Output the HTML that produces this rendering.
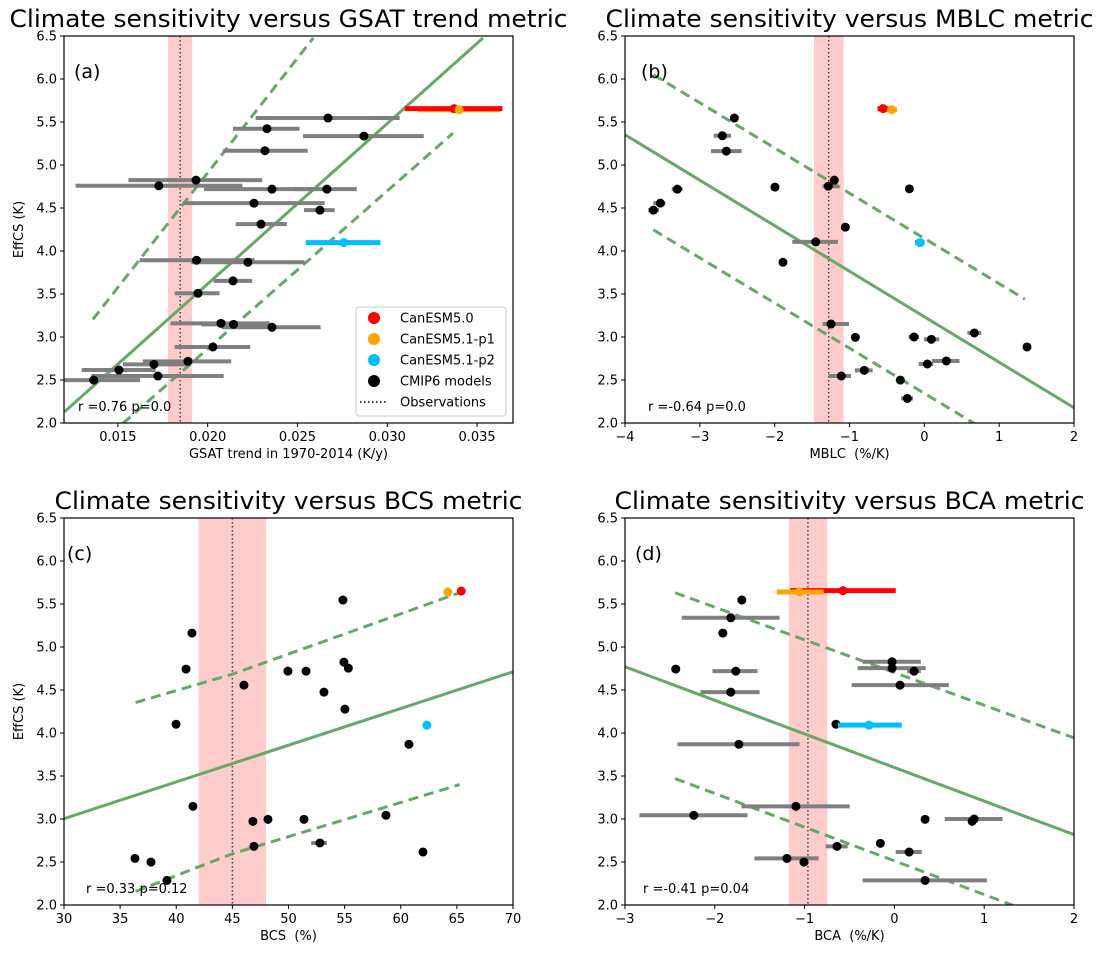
<!DOCTYPE html>
<html><head><meta charset="utf-8"><style>
body{margin:0;background:#fff;}
svg{display:block;font-family:"DejaVu Sans","Liberation Sans",sans-serif;}
</style></head><body>
<svg id="fig" width="1103" height="958" viewBox="0 0 1103 958" xmlns="http://www.w3.org/2000/svg"></svg>
<script>
// ---------- Panel (a) GSAT ----------
const aX=[0.02670,0.02330,0.02870,0.02319,0.01935,0.01728,0.02358,0.02664,0.02258,0.02625,0.02297,0.01938,0.02224,0.02141,0.01946,0.02074,0.02144,0.02358,0.02029,0.01890,0.01701,0.01506,0.01723,0.01366];
const aY=[5.546,5.422,5.336,5.166,4.824,4.758,4.719,4.719,4.556,4.475,4.312,3.893,3.869,3.652,3.508,3.159,3.147,3.113,2.884,2.717,2.682,2.616,2.546,2.499];
const aLo=[0.02267,0.02141,0.02531,0.02085,0.01559,0.01264,0.01980,0.02480,0.01862,0.02536,0.02156,0.01621,0.01909,0.02033,0.01816,0.01793,0.01964,0.02079,0.01816,0.01639,0.01528,0.01299,0.01351,0.01199];
const aHi=[0.03069,0.02512,0.03203,0.02557,0.02304,0.02193,0.02600,0.02830,0.02651,0.02707,0.02440,0.02261,0.02540,0.02248,0.02066,0.02345,0.02345,0.02629,0.02237,0.02131,0.01890,0.01710,0.02089,0.01624];
const aCan=[[0.03372,5.655,0.03097,0.03641],[0.03400,5.643,0.03171,0.03630],[0.02757,4.098,0.02546,0.02962]];
const aFit=[[0.01203,2.131],[0.03533,6.477]];
const aUp=[[0.01361,3.206],[0.02588,6.477]];
const aDn=[[0.01528,1.995],[0.03366,5.371]];
const aObs=[0.01847,0.01779,0.01914];
const aXTicks=[0.015,0.020,0.025,0.030,0.035];
const aXLabels=["0.015","0.020","0.025","0.030","0.035"];
// ---------- Panel (b) MBLC ----------
const bX=[-2.539,-2.699,-2.646,-1.996,-1.283,-1.203,-0.200,-3.301,-3.528,-3.621,-1.056,-1.452,-1.889,-1.247,-0.922,-0.138,0.094,0.668,1.372,0.040,0.294,-0.802,-1.109,-0.321,-0.227];
const bY=[5.546,5.340,5.162,4.743,4.754,4.824,4.723,4.719,4.556,4.475,4.277,4.106,3.869,3.151,2.996,3.000,2.973,3.047,2.884,2.686,2.721,2.612,2.546,2.499,2.286];
const bLo=[-2.539,-2.815,-2.851,-1.996,-1.360,-1.203,-0.200,-3.375,-3.620,-3.690,-1.056,-1.764,-1.889,-1.360,-0.922,-0.210,-0.005,0.575,1.372,-0.075,0.100,-0.930,-1.280,-0.321,-0.310];
const bHi=[-2.539,-2.583,-2.441,-1.996,-1.150,-1.203,-0.200,-3.229,-3.460,-3.545,-1.056,-1.154,-1.889,-1.007,-0.922,-0.070,0.200,0.760,1.372,0.120,0.470,-0.690,-0.980,-0.321,-0.150];
const bCan=[[-0.552,5.655,-0.625,-0.480],[-0.437,5.643,-0.510,-0.365],[-0.058,4.098,-0.125,0.005]];
const bFit=[[-4,5.352],[2,2.177]];
const bUp=[[-3.621,6.050],[1.345,3.439]];
const bDn=[[-3.621,4.246],[0.677,1.990]];
const bObs=[-1.278,-1.474,-1.078];
const bXTicks=[-4,-3,-2,-1,0,1,2];
const bXLabels=["\u22124","\u22123","\u22122","\u22121","0","1","2"];
// ---------- Panel (c) BCS ----------
const cX=[54.85,41.40,40.87,54.94,55.33,49.95,51.56,46.03,53.16,55.03,39.98,60.73,41.49,46.83,48.17,51.38,58.68,46.92,52.80,61.98,36.32,37.75,39.17];
const cY=[5.546,5.162,4.743,4.824,4.754,4.719,4.719,4.556,4.475,4.277,4.102,3.869,3.147,2.973,2.996,2.996,3.043,2.682,2.721,2.616,2.542,2.499,2.286];
const cLo=[54.85,41.40,40.87,54.94,55.33,49.95,51.56,46.03,53.16,55.03,39.98,60.73,41.49,46.83,48.17,51.38,58.68,46.92,52.02,61.98,36.32,37.75,39.17];
const cHi=[54.85,41.40,40.87,54.94,55.33,49.95,51.56,46.03,53.16,55.03,39.98,60.73,41.49,46.83,48.17,51.38,58.68,46.92,53.42,61.98,36.32,37.75,39.17];
const cCan=[[65.39,5.651,65.39,65.39],[64.20,5.639,64.20,64.20],[62.33,4.091,62.33,62.33]];
const cFit=[[30,3.004],[70,4.712]];
const cUp=[[36.38,4.354],[45,4.684],[65.24,5.631]];
const cDn=[[36.38,2.158],[45,2.596],[65.24,3.400]];
const cObs=[45,42,48];
const cXTicks=[30,35,40,45,50,55,60,65,70];
const cXLabels=["30","35","40","45","50","55","60","65","70"];
// ---------- Panel (d) BCA ----------
const dX=[-1.699,-1.822,-1.911,-2.435,-0.026,-0.026,0.219,-1.766,0.063,-1.822,-0.651,-1.732,-1.097,-2.234,0.342,0.888,0.866,-0.156,-0.639,0.164,-1.197,-1.007,0.342];
const dY=[5.546,5.340,5.162,4.743,4.828,4.754,4.719,4.719,4.556,4.475,4.102,3.869,3.147,3.043,2.996,3.000,2.973,2.717,2.682,2.616,2.542,2.499,2.286];
const dLo=[-1.699,-2.368,-1.911,-2.435,-0.353,-0.409,0.141,-2.026,-0.476,-2.160,-0.651,-2.416,-1.703,-2.840,0.342,0.561,0.866,-0.156,-0.766,0.015,-1.558,-1.007,-0.353];
const dHi=[-1.699,-1.279,-1.911,-2.435,0.294,0.349,0.294,-1.524,0.606,-1.502,-0.651,-1.056,-0.498,-1.636,0.342,1.204,0.866,-0.156,-0.520,0.305,-0.844,-1.007,1.030];
const dCan=[[-0.572,5.655,-1.160,0.015],[-1.056,5.639,-1.312,-0.788],[-0.283,4.091,-0.628,0.082]];
const dFit=[[-3,4.770],[2,2.818]];
const dUp=[[-2.442,5.631],[2,3.943]];
const dDn=[[-2.442,3.470],[1.323,1.995]];
const dObs=[-0.963,-1.175,-0.747];
const dXTicks=[-3,-2,-1,0,1,2];
const dXLabels=["\u22123","\u22122","\u22121","0","1","2"];
const yTicks=[2.0,2.5,3.0,3.5,4.0,4.5,5.0,5.5,6.0,6.5];
const yLabels=["2.0","2.5","3.0","3.5","4.0","4.5","5.0","5.5","6.0","6.5"];
const canColors=["#ff0000","#ffa500","#00bfff"];

const NS="http://www.w3.org/2000/svg";
const svg=document.getElementById('fig');
function mk(tag,attrs,parent,text){const e=document.createElementNS(NS,tag);for(const k in attrs)e.setAttribute(k,attrs[k]);if(text!==undefined)e.textContent=text;(parent||svg).appendChild(e);return e;}

function panel(o){
  const g=mk('g',{});
  
  
  const L=o.left,T=o.top,W=449,H=387;
  const sx=v=>L+(v-o.xmin)/(o.xmax-o.xmin)*W;
  const sy=v=>T+H-(v-2)/(4.5)*H;
  const clip=mk('clipPath',{id:'clip-'+o.id},g);
  mk('rect',{x:L,y:T,width:W,height:H},clip);
  const inner=mk('g',{'clip-path':'url(#clip-'+o.id+')'},g);
  const band=mk('rect',{x:sx(o.obs[1]),y:T,width:sx(o.obs[2])-sx(o.obs[1]),height:H,fill:'#ffcccc'},inner);
  
  
  const ol=mk('line',{x1:sx(o.obs[0]),x2:sx(o.obs[0]),y1:T,y2:T+H,stroke:'#444','stroke-width':1.5,'stroke-dasharray':'1.5,2.5'},inner);
  
  
  const lines=[[o.fit,'','fit-line'],[o.up,'10,6','upper-prediction-line'],[o.dn,'10,6','lower-prediction-line']];
  lines.forEach(([pts,dash,name])=>{
    const p=mk('polyline',{points:pts.map(q=>sx(q[0])+','+sy(q[1])).join(' '),fill:'none',stroke:'#66a866','stroke-width':3,'stroke-dasharray':dash},inner);
    
    
  });
  for(let i=0;i<o.x.length;i++){
    if(o.hi[i]-o.lo[i]>0){
      const b=mk('line',{x1:sx(o.lo[i]),x2:sx(o.hi[i]),y1:sy(o.y[i]),y2:sy(o.y[i]),stroke:'#7f7f7f','stroke-width':4},inner);
      
      
    }
  }
  for(let i=0;i<o.x.length;i++){
    const c=mk('circle',{cx:sx(o.x[i]),cy:sy(o.y[i]),r:4.5,fill:'#000'},inner);
    
    
  }
  const order=o.redTop?[1,2,0]:[0,1,2];
  order.forEach(k=>{
    const d=o.can[k];
    if(d[3]-d[2]>0){
      const b=mk('line',{x1:sx(d[2]),x2:sx(d[3]),y1:sy(d[1]),y2:sy(d[1]),stroke:canColors[k],'stroke-width':5},inner);
      
      
    }
  });
  o.can.forEach((d,k)=>{
    const c=mk('circle',{cx:sx(d[0]),cy:sy(d[1]),r:4.5,fill:canColors[k]},inner);
    
    
  });
  const fr=mk('rect',{x:L,y:T,width:W,height:H,fill:'none',stroke:'#000','stroke-width':1.2},g);
  
  
  o.xt.forEach((v,i)=>{
    const x=sx(v);
    mk('line',{x1:x,x2:x,y1:T+H,y2:T+H+4,stroke:'#000','stroke-width':1},g);
    const t=mk('text',{x:x,y:T+H+18,'font-size':13,'text-anchor':'middle'},g,o.xl[i]);
    
    
  });
  yTicks.forEach((v,i)=>{
    const y=sy(v);
    mk('line',{x1:L-4,x2:L,y1:y,y2:y,stroke:'#000','stroke-width':1},g);
    const t=mk('text',{x:L-7,y:y+4.5,'font-size':13,'text-anchor':'end'},g,yLabels[i]);
    
    
  });
  const ti=mk('text',{x:L+W/2,y:T-9,'font-size':24,'text-anchor':'middle',textLength:o.tlen,lengthAdjust:'spacingAndGlyphs'},g,o.title);
  
  
  const xl=mk('text',{x:L+W/2,y:T+H+35,'font-size':13,'text-anchor':'middle'},g,o.xlabel);
  
  
  if(o.ylabel){
    const yl=mk('text',{x:0,y:0,'font-size':13,'text-anchor':'middle',transform:'translate('+(L-41)+','+(T+H/2)+') rotate(-90)'},g,'EffCS (K)');
    
    
  }
  const pl=mk('text',{x:L+o.plx,y:T+42,'font-size':19},g,o.letter);
  
  
  const rt=mk('text',{x:L+o.rx,y:T+H-12,'font-size':13},g,o.rtext);
  
  
  return {sx,sy,g};
}

panel({id:'a',left:64,top:36,xmin:0.012,xmax:0.037,x:aX,y:aY,lo:aLo,hi:aHi,can:aCan,fit:aFit,up:aUp,dn:aDn,obs:aObs,xt:aXTicks,xl:aXLabels,title:'Climate sensitivity versus GSAT trend metric',tlen:558,redTop:true,xlabel:'GSAT trend in 1970-2014 (K/y)',ylabel:true,letter:'(a)',plx:10,rx:14,rtext:'r =0.76 p=0.0'});
panel({id:'b',left:625,top:36,xmin:-4,xmax:2,x:bX,y:bY,lo:bLo,hi:bHi,can:bCan,fit:bFit,up:bUp,dn:bDn,obs:bObs,xt:bXTicks,xl:bXLabels,title:'Climate sensitivity versus MBLC metric',tlen:488,xlabel:'MBLC\u00a0\u00a0(%/K)',ylabel:false,letter:'(b)',plx:16,rx:23,rtext:'r =-0.64 p=0.0'});
panel({id:'c',left:64,top:518,xmin:30,xmax:70,x:cX,y:cY,lo:cLo,hi:cHi,can:cCan,fit:cFit,up:cUp,dn:cDn,obs:cObs,xt:cXTicks,xl:cXLabels,title:'Climate sensitivity versus BCS metric',tlen:468,xlabel:'BCS\u00a0\u00a0(%)',ylabel:true,letter:'(c)',plx:3,rx:22,rtext:'r =0.33 p=0.12'});
panel({id:'d',left:625,top:518,xmin:-3,xmax:2,x:dX,y:dY,lo:dLo,hi:dHi,can:dCan,fit:dFit,up:dUp,dn:dDn,obs:dObs,xt:dXTicks,xl:dXLabels,title:'Climate sensitivity versus BCA metric',tlen:470,xlabel:'BCA\u00a0\u00a0(%/K)',ylabel:false,letter:'(d)',plx:10,rx:18,rtext:'r =-0.41 p=0.04'});

const leg=mk('g',{});


mk('rect',{x:356,y:307,width:150,height:109,rx:3,fill:'#fff','fill-opacity':0.85,stroke:'#ccc','stroke-width':1},leg);
const legNames=['CanESM5.0','CanESM5.1-p1','CanESM5.1-p2','CMIP6 models','Observations'];
const legColors=['#ff0000','#ffa500','#00bfff','#000'];
legNames.forEach((n,i)=>{
  const y=318+i*21;
  const e=mk('g',{},leg);
  
  
  if(i<4) mk('circle',{cx:374,cy:y,r:6,fill:legColors[i]},e);
  else mk('line',{x1:360,x2:388,y1:y,y2:y,stroke:'#000','stroke-width':1.5,'stroke-dasharray':'1.5,2.5'},e);
  mk('text',{x:400,y:y+4.5,'font-size':13},e,n);
});
</script>
</body></html>
